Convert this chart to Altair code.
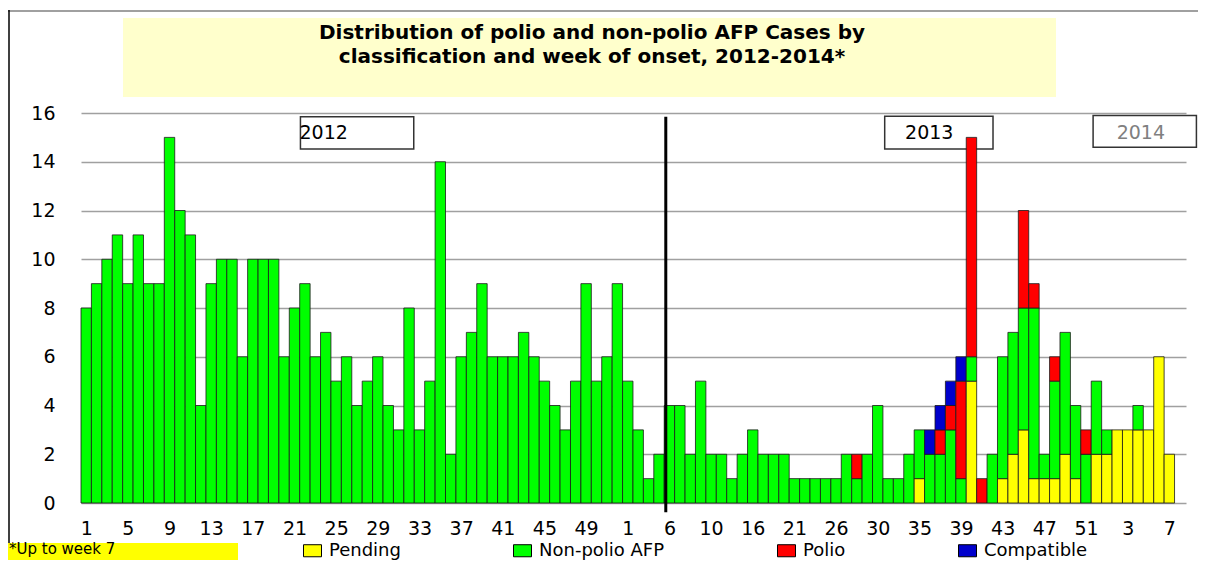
import altair as alt
import pandas as pd

# ---------------- data ----------------
categories = ["Pending", "Non-polio AFP", "Polio", "Compatible"]
cat_colors = ["#FFFF00", "#00FF00", "#FF0000", "#0000CC"]

weeks_2012 = list(range(1, 53))
weeks_2013 = [1, 2, 3, 4, 6, 7, 8, 9, 10, 11, 12, 14, 16, 17, 18, 19, 21, 22, 23, 24,
              26, 27, 28, 29, 30, 31, 32, 33, 35, 36, 37, 38, 39, 40, 41, 42, 43, 44,
              45, 46, 47, 48, 49, 50, 51, 52]
weeks_2014 = [1, 2, 3, 4, 5, 6, 7]

nonpolio_2012 = [8, 9, 10, 11, 9, 11, 9, 9, 15, 12,
                 11, 4, 9, 10, 10, 6, 10, 10, 10, 6,
                 8, 9, 6, 7, 5, 6, 4, 5, 6, 4,
                 3, 8, 3, 5, 14, 2, 6, 7, 9, 6,
                 6, 6, 7, 6, 5, 4, 3, 5, 9, 5,
                 6, 9]
pending_2012 = [0] * 52
polio_2012 = [0] * 52
compatible_2012 = [0] * 52

pending_2013 = [0, 0, 0, 0, 0, 0, 0, 0, 0, 0, 0, 0, 0, 0, 0, 0, 0, 0, 0, 0,
                0, 0, 0, 0, 0, 0, 0, 0, 1, 0, 0, 0, 0, 5, 0, 0, 1, 2, 3, 1,
                1, 1, 2, 1, 0, 2]
nonpolio_2013 = [5, 3, 1, 2, 4, 4, 2, 5, 2, 2, 1, 2, 3, 2, 2, 2, 1, 1, 1, 1,
                 1, 2, 1, 2, 4, 1, 1, 2, 2, 2, 2, 3, 1, 1, 0, 2, 5, 5, 5, 7,
                 1, 4, 5, 3, 2, 3]
polio_2013 = [0, 0, 0, 0, 0, 0, 0, 0, 0, 0, 0, 0, 0, 0, 0, 0, 0, 0, 0, 0,
              0, 0, 1, 0, 0, 0, 0, 0, 0, 0, 1, 1, 4, 9, 1, 0, 0, 0, 4, 1,
              0, 1, 0, 0, 1, 0]
compatible_2013 = [0, 0, 0, 0, 0, 0, 0, 0, 0, 0, 0, 0, 0, 0, 0, 0, 0, 0, 0, 0,
                   0, 0, 0, 0, 0, 0, 0, 0, 0, 1, 1, 1, 1, 0, 0, 0, 0, 0, 0, 0,
                   0, 0, 0, 0, 0, 0]

pending_2014 = [2, 3, 3, 3, 3, 6, 2]
nonpolio_2014 = [1, 0, 0, 1, 0, 0, 0]
polio_2014 = [0, 0, 0, 0, 0, 0, 0]
compatible_2014 = [0, 0, 0, 0, 0, 0, 0]

title_lines = ["Distribution of polio and non-polio AFP Cases by",
               "classification and week of onset, 2012-2014*"]
footnote = "*Up to week 7"

# ---------------- build tables ----------------
week_labels = [str(w) for w in weeks_2012 + weeks_2013 + weeks_2014]
years = (["2012"] * len(weeks_2012) + ["2013"] * len(weeks_2013)
         + ["2014"] * len(weeks_2014))
series = {
    "Pending": pending_2012 + pending_2013 + pending_2014,
    "Non-polio AFP": nonpolio_2012 + nonpolio_2013 + nonpolio_2014,
    "Polio": polio_2012 + polio_2013 + polio_2014,
    "Compatible": compatible_2012 + compatible_2013 + compatible_2014,
}
N = len(week_labels)
rows = []
for i in range(N):
    base = 0
    for cat in categories:
        v = series[cat][i]
        if v > 0:
            rows.append({"x0": i, "x1": i + 1, "y0": base, "y1": base + v,
                         "cat": cat, "cases": v, "year": years[i],
                         "week": week_labels[i]})
            base += v
df = pd.DataFrame(rows)

tick_vals = [i + 0.5 for i in range(0, N, 4)]
tick_text = [week_labels[i] for i in range(0, N, 4)]
label_expr = ("[" + ",".join("'%s'" % t for t in tick_text)
              + "][round((datum.value - 0.5) / 4)]")

FONT = "DejaVu Sans"
xscale = alt.Scale(domain=[0, 106.1], nice=False, zero=False)
yscale = alt.Scale(domain=[0, 16], nice=False)
one = pd.DataFrame({"k": [0]})

bars = alt.Chart(df).mark_bar(stroke="#1a1a1a", strokeWidth=0.8).encode(
    x=alt.X("x0:Q", scale=xscale,
            axis=alt.Axis(values=tick_vals, labelExpr=label_expr, title=None,
                          grid=False, ticks=False, domain=False, labelPadding=16,
                          labelOverlap=False, labelFlush=False, labelFontSize=19,
                          labelFont=FONT, labelColor="#000000")),
    x2="x1:Q",
    y=alt.Y("y1:Q", scale=yscale,
            axis=alt.Axis(values=list(range(0, 17, 2)), title=None, grid=True,
                          gridColor="#a0a0a0", gridWidth=1.5, ticks=False,
                          domain=False, labelPadding=26, labelFontSize=19,
                          labelFont=FONT, labelColor="#000000")),
    y2="y0:Q",
    color=alt.Color("cat:N", sort=categories,
                    scale=alt.Scale(domain=categories, range=cat_colors),
                    legend=alt.Legend(orient="none", legendX=222, legendY=428,
                                      direction="horizontal", columns=4,
                                      title=None, padding=0,
                                      symbolType="M-1,-0.67H1V0.67H-1Z",
                                      symbolSize=324, symbolStrokeColor="#000000",
                                      symbolStrokeWidth=1, symbolOpacity=1,
                                      labelFontSize=18, labelFont=FONT,
                                      labelColor="#000000", labelOffset=7,
                                      columnPadding=110)),
    tooltip=["year:N", "week:N", "cat:N", "cases:Q"],
)


def year_box(x0, x1, y0, y1, stroke):
    return alt.Chart(one).mark_rect(fill="white", stroke=stroke, strokeWidth=1.5).encode(
        x=alt.X(datum=x0, type="quantitative", scale=xscale),
        x2=alt.X2(datum=x1),
        y=alt.Y(datum=y1, type="quantitative", scale=yscale),
        y2=alt.Y2(datum=y0),
    )


def year_text(x, y, label, color):
    return alt.Chart(one).mark_text(font=FONT, fontSize=19, color=color,
                                    align="center", baseline="middle").encode(
        x=alt.X(datum=x, type="quantitative", scale=xscale),
        y=alt.Y(datum=y, type="quantitative", scale=yscale),
        text=alt.value(label),
    )


box12 = year_box(21.07, 31.95, 14.52, 15.85, "#333333")
box13 = year_box(77.17, 87.57, 14.52, 15.87, "#333333")
box14 = year_box(97.18, 107.1, 14.6, 15.9, "#333333")
txt12 = year_text(23.3, 15.17, "2012", "#000000")
txt13 = year_text(81.45, 15.17, "2013", "#000000")
txt14 = year_text(101.76, 15.2, "2014", "#808080")

divider = alt.Chart(one).mark_rule(color="#000000", strokeWidth=3).encode(
    x=alt.X(datum=56.15, type="quantitative", scale=xscale),
    y=alt.Y(datum=15.85, type="quantitative", scale=yscale),
    y2=alt.Y2(datum=-0.38),
)

frame_top = alt.Chart(one).mark_rule(color="#808080", strokeWidth=1.5).encode(
    x=alt.value(-73), x2=alt.value(1120), y=alt.value(-102))
frame_left = alt.Chart(one).mark_rule(color="#000000", strokeWidth=1.5).encode(
    x=alt.value(-72), y=alt.value(-103), y2=alt.value(430))

title_box = alt.Chart(one).mark_rect(fill="#FFFFCC").encode(
    x=alt.value(42), x2=alt.value(975), y=alt.value(-95), y2=alt.value(-16))
title1 = alt.Chart(one).mark_text(font=FONT, fontSize=20, fontWeight="bold",
                                  color="#000000", align="center",
                                  baseline="alphabetic").encode(
    x=alt.value(511), y=alt.value(-74), text=alt.value(title_lines[0]))
title2 = alt.Chart(one).mark_text(font=FONT, fontSize=20, fontWeight="bold",
                                  color="#000000", align="center",
                                  baseline="alphabetic").encode(
    x=alt.value(511), y=alt.value(-50), text=alt.value(title_lines[1]))

foot_box = alt.Chart(one).mark_rect(fill="#FFFF00").encode(
    x=alt.value(-73), x2=alt.value(157), y=alt.value(430), y2=alt.value(447))
foot_text = alt.Chart(one).mark_text(font=FONT, fontSize=15, color="#000000",
                                     align="left", baseline="alphabetic").encode(
    x=alt.value(-72), y=alt.value(441), text=alt.value(footnote))

chart = alt.layer(
    frame_top, frame_left, title_box, title1, title2,
    box12, box13, box14, bars, divider, txt12, txt13, txt14,
    foot_box, foot_text,
).properties(
    width=1105, height=390,
    autosize=alt.AutoSizeParams(type="none"),
    padding={"left": 73, "top": 105, "right": 12, "bottom": 57},
    background="white",
).configure_view(strokeWidth=0)

chart.save("out.html", embed_options={"renderer": "svg", "actions": False})
